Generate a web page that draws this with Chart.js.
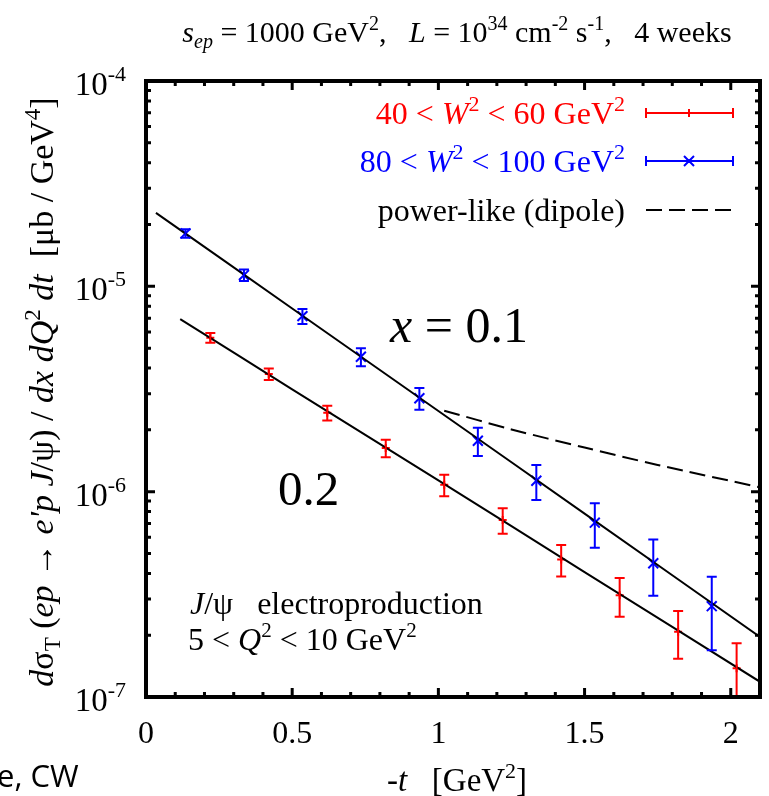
<!DOCTYPE html>
<html>
<head>
<meta charset="utf-8">
<script src="https://cdn.jsdelivr.net/npm/chart.js@4"></script>
<style>
  html, body { margin: 0; padding: 0; background: #fff; overflow: hidden; }
  #wrap { width: 769px; height: 796px; position: relative; }
</style>
</head>
<body>
<div id="wrap"><canvas id="chart"></canvas></div>
<script>
// -t values [GeV^2] and cross sections [ub / GeV^4]
const redT = [0.22, 0.42, 0.62, 0.82, 1.02, 1.22, 1.42, 1.62, 1.82, 2.02];
const redVal = [5.62e-6, 3.74e-6, 2.42e-6, 1.63e-6, 1.08e-6, 7.27e-7, 4.68e-7, 3.13e-7, 2.08e-7, 1.38e-7];
const redErr = [3.05e-7, 2.45e-7, 1.99e-7, 1.58e-7, 1.29e-7, 1.03e-7, 8.2e-8, 6.7e-8, 5.45e-8, 4.46e-8];

const blueT = [0.135, 0.335, 0.535, 0.735, 0.935, 1.135, 1.335, 1.535, 1.735, 1.935];
const blueVal = [1.81e-5, 1.135e-5, 7.16e-6, 4.54e-6, 2.85e-6, 1.77e-6, 1.13e-6, 7.06e-7, 4.48e-7, 2.77e-7];
const blueErr = [8.8e-7, 7.4e-7, 6.0e-7, 4.6e-7, 3.45e-7, 2.8e-7, 2.2e-7, 1.73e-7, 1.37e-7, 1.08e-7];

// fitted curves
const redFitT = [0.117, 0.5, 1.0, 1.5, 2.1];
const redFitVal = [6.93e-6, 3.15e-6, 1.135e-6, 4.06e-7, 1.186e-7];
const blueFitT = [0.034, 0.5, 1.0, 1.5, 2.1];
const blueFitVal = [2.28e-5, 7.80e-6, 2.47e-6, 7.82e-7, 1.96e-7];
const dipoleT = [1.02, 1.25, 1.5, 1.75, 2.1];
const dipoleVal = [2.48e-6, 2.01e-6, 1.64e-6, 1.35e-6, 1.05e-6];

const xTicks = [0, 0.5, 1, 1.5, 2];
const yTicks = [1e-7, 1e-6, 1e-5, 1e-4];

const SERIF = '"Liberation Serif", "DejaVu Serif", serif';
const RED = '#ff0000';
const BLUE = '#0000ff';

function pts(xs, ys) {
    return xs.map((x, i) => ({ x: x, y: ys[i] }));
}

function fontOf(p) {
    return (p[2] ? p[2] + ' ' : '') + p[1] + 'px ' + SERIF;
}

// draw a line of mixed text: parts = [text, size, style, dy]
function rich(ctx, x, y, parts, align, color) {
    ctx.save();
    ctx.fillStyle = color || '#000';
    ctx.textBaseline = 'alphabetic';
    ctx.textAlign = 'left';
    let w = 0;
    parts.forEach(p => {
        ctx.font = fontOf(p);
        w += ctx.measureText(p[0]).width;
    });
    let cx = x;
    if (align === 'center') cx = x - w / 2;
    if (align === 'right') cx = x - w;
    parts.forEach(p => {
        ctx.font = fontOf(p);
        ctx.fillText(p[0], cx, y + (p[3] || 0));
        cx += ctx.measureText(p[0]).width;
    });
    ctx.restore();
}

const errorBars = {
    id: 'errorBars',
    afterDatasetsDraw(chart) {
        const ctx = chart.ctx;
        const xs = chart.scales.x, ys = chart.scales.y;
        const a = chart.chartArea;
        ctx.save();
        ctx.beginPath();
        ctx.rect(a.left, a.top, a.right - a.left, a.bottom - a.top);
        ctx.clip();
        chart.data.datasets.forEach(ds => {
            if (!ds.err) return;
            ctx.strokeStyle = ds.borderColor;
            ctx.lineWidth = 2;
            ds.data.forEach((p, i) => {
                const px = xs.getPixelForValue(p.x);
                const y1 = ys.getPixelForValue(p.y + ds.err[i]);
                const y2 = ys.getPixelForValue(p.y - ds.err[i]);
                ctx.beginPath();
                ctx.moveTo(px, y1); ctx.lineTo(px, y2);
                ctx.moveTo(px - 5, y1); ctx.lineTo(px + 5, y1);
                ctx.moveTo(px - 5, y2); ctx.lineTo(px + 5, y2);
                ctx.stroke();
            });
        });
        ctx.restore();
    }
};

const frame = {
    id: 'frame',
    afterDraw(chart) {
        const ctx = chart.ctx;
        const xs = chart.scales.x, ys = chart.scales.y;
        const a = chart.chartArea;
        ctx.save();
        ctx.strokeStyle = '#000';
        ctx.lineWidth = 3;
        // x ticks, bottom and top
        for (let k = 0; k <= 21; k++) {
            const v = k / 10;
            const px = xs.getPixelForValue(v);
            const len = (k % 5 === 0) ? 9 : 5;
            ctx.beginPath();
            ctx.moveTo(px, a.bottom); ctx.lineTo(px, a.bottom - len);
            ctx.moveTo(px, a.top); ctx.lineTo(px, a.top + len);
            ctx.stroke();
        }
        // y ticks, left and right
        for (let e = -7; e <= -4; e++) {
            for (let m = 1; m <= 9; m++) {
                const v = m * Math.pow(10, e);
                if (v > 1.0001e-4) break;
                const py = ys.getPixelForValue(v);
                const len = m === 1 ? 9 : 5;
                ctx.beginPath();
                ctx.moveTo(a.left, py); ctx.lineTo(a.left + len, py);
                ctx.moveTo(a.right, py); ctx.lineTo(a.right - len, py);
                ctx.stroke();
            }
        }
        ctx.lineWidth = 4;
        ctx.strokeRect(a.left, a.top, a.right - a.left, a.bottom - a.top);

        // tick labels
        xTicks.forEach(v => {
            rich(ctx, xs.getPixelForValue(v), 743, [[String(v), 32]], 'center');
        });
        yTicks.forEach(v => {
            const e = Math.round(Math.log10(v));
            rich(ctx, 126, ys.getPixelForValue(v) + 14, [['10', 33], [String(e), 22, '', -14]], 'right');
        });

        // axis titles
        rich(ctx, 457, 791, [['-', 33], ['t', 33, 'italic'], ['   [GeV', 33], ['2', 22, '', -13], [']', 33]], 'center');
        ctx.save();
        ctx.translate(53, 392);
        ctx.rotate(-Math.PI / 2);
        rich(ctx, 0, 0, [['d', 34, 'italic'], ['σ', 34], ['T', 23, '', 7], [' (', 34], ['ep', 34, 'italic'],
            [' → ', 34], ["e'p J", 34, 'italic'], ['/ψ) / ', 34], ['dx dQ', 34, 'italic'], ['2', 23, '', -13],
            [' dt', 34, 'italic'], ['  [μb / GeV', 34], ['4', 23, '', -13], [']', 34]], 'center');
        ctx.restore();

        // title
        rich(ctx, 457, 42, [['s', 30, 'italic'], ['ep', 20, 'italic', 6], [' = 1000 GeV', 30], ['2', 20, '', -12],
            [',   ', 30], ['L', 30, 'italic'], [' = 10', 30], ['34', 20, '', -12], [' cm', 30], ['-2', 20, '', -12],
            [' s', 30], ['-1', 20, '', -12], [',   4 weeks', 30]], 'center');

        // annotations
        rich(ctx, 390, 342, [['x', 50, 'italic'], [' = 0.1', 50]], 'left');
        rich(ctx, 278, 505, [['0.2', 49]], 'left');
        rich(ctx, 190, 614, [['J', 32, 'italic'], ['/ψ   electroproduction', 32]], 'left');
        rich(ctx, 188, 650, [['5 < ', 32], ['Q', 32, 'italic'], ['2', 21, '', -13], [' < 10 GeV', 32], ['2', 21, '', -13]], 'left');

        // legend
        const lx1 = 646, lx2 = 733, lxm = 689;
        const rows = [
            { y: 113, color: RED, parts: [['40 < ', 32], ['W', 32, 'italic'], ['2', 22, '', -13], [' < 60 GeV', 32], ['2', 22, '', -13]], mark: '+' },
            { y: 161, color: BLUE, parts: [['80 < ', 32], ['W', 32, 'italic'], ['2', 22, '', -13], [' < 100 GeV', 32], ['2', 22, '', -13]], mark: 'x' },
            { y: 210, color: '#000', parts: [['power-like (dipole)', 32]], mark: 'dash' }
        ];
        rows.forEach(r => {
            rich(ctx, 625, r.y + 11, r.parts, 'right', r.color);
            ctx.strokeStyle = r.color;
            ctx.lineWidth = 2;
            ctx.beginPath();
            if (r.mark === 'dash') {
                ctx.setLineDash([16, 7]);
                ctx.moveTo(lx1, r.y); ctx.lineTo(lx2, r.y);
                ctx.stroke();
                ctx.setLineDash([]);
                return;
            }
            ctx.moveTo(lx1, r.y); ctx.lineTo(lx2, r.y);
            ctx.moveTo(lx1, r.y - 5); ctx.lineTo(lx1, r.y + 5);
            ctx.moveTo(lx2, r.y - 5); ctx.lineTo(lx2, r.y + 5);
            if (r.mark === '+') {
                ctx.moveTo(lxm, r.y - 4); ctx.lineTo(lxm, r.y + 4);
            } else {
                ctx.moveTo(lxm - 5, r.y - 5); ctx.lineTo(lxm + 5, r.y + 5);
                ctx.moveTo(lxm - 5, r.y + 5); ctx.lineTo(lxm + 5, r.y - 5);
            }
            ctx.stroke();
        });

        // stray label at the bottom left of the picture
        ctx.fillStyle = '#000';
        ctx.font = '31px "Open Sans", "DejaVu Sans", sans-serif';
        ctx.textAlign = 'left';
        ctx.fillText('e, CW', -3, 787);
        ctx.restore();
    }
};

new Chart(document.getElementById('chart'), {
    type: 'scatter',
    data: {
        datasets: [
            { label: 'fit 0.2', data: pts(redFitT, redFitVal), showLine: true, borderColor: '#000', borderWidth: 2, pointRadius: 0, tension: 0.3 },
            { label: 'fit 0.1', data: pts(blueFitT, blueFitVal), showLine: true, borderColor: '#000', borderWidth: 2, pointRadius: 0, tension: 0.3 },
            { label: 'power-like (dipole)', data: pts(dipoleT, dipoleVal), showLine: true, borderColor: '#000', borderWidth: 2, borderDash: [16, 7], pointRadius: 0, tension: 0.3 },
            { label: '40 < W2 < 60 GeV2', data: pts(redT, redVal), err: redErr, borderColor: RED, backgroundColor: RED, pointStyle: 'cross', pointRadius: 4, borderWidth: 2 },
            { label: '80 < W2 < 100 GeV2', data: pts(blueT, blueVal), err: blueErr, borderColor: BLUE, backgroundColor: BLUE, pointStyle: 'crossRot', pointRadius: 7, borderWidth: 2 }
        ]
    },
    options: {
        responsive: true,
        maintainAspectRatio: false,
        animation: false,
        layout: { padding: { left: 146, top: 81, right: 0, bottom: 99 } },
        plugins: { legend: { display: false }, tooltip: { enabled: false } },
        scales: {
            x: { type: 'linear', min: 0, max: 2.1, display: false },
            y: { type: 'logarithmic', min: 1e-7, max: 1e-4, display: false }
        }
    },
    plugins: [errorBars, frame]
});
</script>
</body>
</html>
